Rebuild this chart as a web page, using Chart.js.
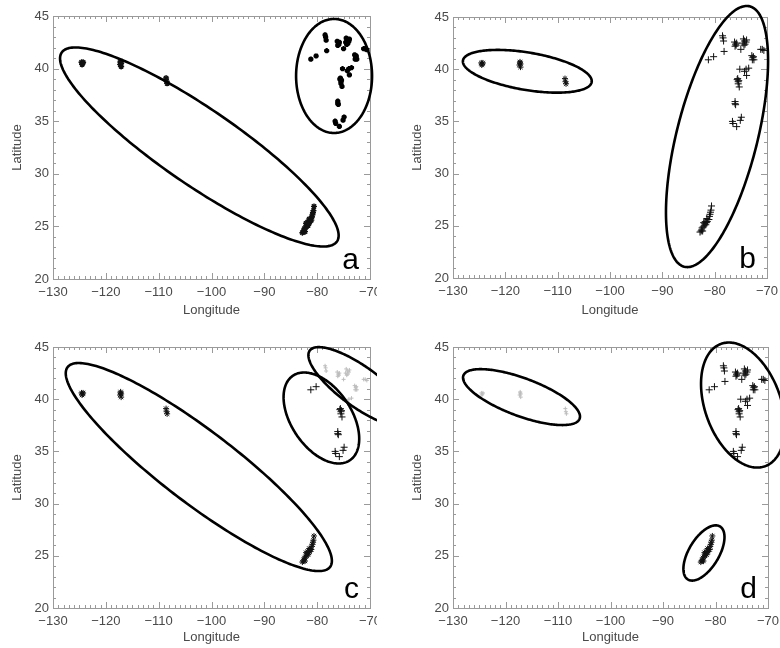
<!DOCTYPE html>
<html><head><meta charset="utf-8">
<script src="https://cdn.jsdelivr.net/npm/chart.js@4/dist/chart.umd.min.js"></script>
<style>
html,body{margin:0;padding:0;background:#fff;}
#wrap{position:relative;width:780px;height:648px;overflow:hidden;background:#fff;}
.panel{position:absolute;overflow:hidden;}
.panel canvas{position:absolute;left:0;top:0;}
</style></head><body>
<div id="wrap">
 <div class="panel" style="left:0;top:0;width:377px;height:324px"><canvas id="ca" width="390" height="324"></canvas></div>
 <div class="panel" style="left:390px;top:0;width:390px;height:324px"><canvas id="cb" width="390" height="324"></canvas></div>
 <div class="panel" style="left:0;top:324px;width:377px;height:324px"><canvas id="cc" width="390" height="324"></canvas></div>
 <div class="panel" style="left:390px;top:324px;width:390px;height:324px"><canvas id="cd" width="390" height="324"></canvas></div>
</div>
<script>
// ---- data ----
const siteNames = ['W1','W2','W3','FL','OH','ROC','SYR','ALB','CT','BOS','NJ','DE','VA','NC'];
const stationSite = [
 'W1','W1','W1','W1',
 'W2','W2','W2','W2','W2',
 'W3','W3','W3',
 'FL','FL','FL','FL','FL','FL','FL','FL','FL','FL','FL','FL','FL','FL','FL','FL','FL','FL','FL','FL','FL',
 'OH','OH',
 'ROC','ROC','ROC','ROC',
 'SYR','SYR','SYR','SYR','SYR',
 'ALB','ALB','ALB','ALB','ALB','ALB','ALB','ALB',
 'CT','CT','CT','CT','CT',
 'BOS','BOS','BOS',
 'NJ','NJ','NJ','NJ','NJ',
 'DE','DE','DE','DE','DE','DE',
 'VA','VA','VA',
 'NC','NC','NC','NC','NC'];
const stationLon = [
 -124.6,-124.4,-124.5,-124.3,
 -117.2,-117.1,-117.3,-117.1,-117.2,
 -108.6,-108.5,-108.4,
 -82.8,-82.6,-82.5,-82.3,-82.4,-82.2,-82.0,-81.9,-82.1,-81.7,-81.6,-81.8,-81.4,-81.3,-81.5,-81.1,-81.0,-80.9,-80.8,-80.7,-80.6,
 -81.2,-80.2,
 -78.5,-78.4,-78.3,-78.2,
 -76.2,-76.0,-76.1,-75.8,-75.9,
 -74.5,-74.3,-74.0,-74.2,-74.4,-73.9,-74.6,-75.0,
 -72.9,-72.7,-72.5,-72.8,-72.6,
 -71.2,-70.6,-70.9,
 -75.2,-74.0,-73.5,-73.9,-74.3,
 -75.7,-75.5,-75.6,-75.4,-75.5,-75.3,
 -76.1,-76.0,-76.1,
 -76.6,-76.5,-75.8,-75.1,-74.9];
const stationLat = [
 40.6,40.5,40.4,40.6,
 40.7,40.5,40.4,40.2,40.6,
 39.1,38.8,38.6,
 24.4,24.5,24.6,24.5,24.8,24.9,25.0,25.2,25.3,25.1,25.3,25.4,25.4,25.6,25.7,25.6,25.9,26.1,26.3,26.5,26.9,
 40.9,41.2,
 43.2,43.0,42.7,41.7,
 42.6,42.4,42.2,42.5,42.3,
 42.9,42.7,42.6,42.4,42.3,42.8,42.5,41.9,
 41.3,41.1,40.9,40.9,41.2,
 41.9,41.8,41.9,
 40.0,40.0,40.1,39.4,39.8,
 39.0,38.8,39.1,38.9,38.6,38.3,
 36.9,36.6,36.7,
 35.0,34.8,34.5,35.1,35.4];
// cluster of each site, per panel
const clusterA = [1,1,1,1,2,2,2,2,2,2,2,2,2,2];
const clusterB = [1,1,1,2,2,2,2,2,2,2,2,2,2,2];
const clusterC = [1,1,1,1,2,3,3,3,3,3,3,2,2,2];
const clusterD = [3,3,3,1,2,2,2,2,2,2,2,2,2,2];
// cluster ellipses: centre lon, centre lat, axis vector u (lon,lat), axis vector v (lon,lat)
const ellipsesA = [[-102.3,32.55,26.05,-8.98,-4.07,-2.98],[-76.8,39.3,7.19,0,0,-5.42]];
const ellipsesB = [[-115.8,39.8,12.3,-1.03,-0.59,-1.77],[-79.55,33.55,6.25,12.47,7.49,-0.94]];
const ellipsesC = [[-102.4,33.5,24.84,-9.57,-4.16,-2.77],[-79.2,38.2,5.39,-4.05,-4.71,-1.61],[-71.9,41.17,9.50,-3.49,-2.23,-1.55]];
const ellipsesD = [[-116.95,40.2,11.07,-2.07,-1.26,-1.70],[-82.2,25.27,3.05,2.54,2.45,-0.74],[-74.76,39.44,4.19,-5.86,-6.81,-1.23]];
const xRange = [-130,-70];
const yRange = [20,45];
const xTickValues = [-130,-120,-110,-100,-90,-80,-70];
const yTickValues = [20,25,30,35,40,45];
const panelLetters = ['a','b','c','d'];

// ---- styles ----
const AXIS = '#9a9a9a';
const TXT = '#4a4a4a';
const FONT = 'Liberation Sans, Arial, sans-serif';
const markerStyles = {
  a:{1:{pointStyle:'star',r:3,bw:1.4,c:'#111'},2:{pointStyle:'star',r:2.6,bw:2.2,c:'#000'}},
  b:{1:{pointStyle:'star',r:3,bw:1,c:'#111'},2:{pointStyle:'cross',r:3.5,bw:1,c:'#111'}},
  c:{1:{pointStyle:'star',r:3,bw:1,c:'#111'},2:{pointStyle:'cross',r:3.5,bw:1,c:'#111'},3:{pointStyle:'cross',r:2,bw:1,c:'#bdbdbd'}},
  d:{1:{pointStyle:'star',r:3,bw:1,c:'#111'},2:{pointStyle:'cross',r:3.5,bw:1,c:'#111'},3:{pointStyle:'cross',r:2,bw:1,c:'#bdbdbd'}}
};
const layouts = {
  a:{padR:20,padT:16,yw:53,xh:45,ytp:10,xtp:6},
  b:{padR:13,padT:17,yw:63,xh:46,ytp:20,xtp:6},
  c:{padR:20,padT:23,yw:53,xh:40,ytp:10,xtp:3},
  d:{padR:12,padT:23,yw:63,xh:40,ytp:20,xtp:3}
};

function minus(v){ return v<0 ? '\u2212'+Math.abs(v) : String(v); }

const framePlugin = {
  id:'frame',
  beforeDatasetsDraw(chart){
    const {ctx, chartArea:a, scales:{x,y}} = chart;
    ctx.save();
    ctx.strokeStyle = AXIS; ctx.lineWidth = 1;
    ctx.strokeRect(Math.round(a.left)+0.5, Math.round(a.top)+0.5, Math.round(a.right-a.left), Math.round(a.bottom-a.top));
    ctx.beginPath();
    for(let v=xRange[0]; v<=xRange[1]; v++){
      const px = Math.round(x.getPixelForValue(v))+0.5;
      const L = (v%10===0)?6:3;
      ctx.moveTo(px,a.bottom); ctx.lineTo(px,a.bottom-L);
      ctx.moveTo(px,a.top); ctx.lineTo(px,a.top+L);
    }
    for(let v=yRange[0]; v<=yRange[1]; v++){
      const py = Math.round(y.getPixelForValue(v))+0.5;
      const L = (v%5===0)?6:3;
      ctx.moveTo(a.left,py); ctx.lineTo(a.left+L,py);
      ctx.moveTo(a.right,py); ctx.lineTo(a.right-L,py);
    }
    ctx.stroke();
    ctx.restore();
  },
  afterDraw(chart){
    const {ctx, chartArea:a, scales:{x,y}} = chart;
    const o = chart.options.plugins.frame;
    ctx.save();
    ctx.strokeStyle = '#000'; ctx.lineWidth = 2.6; ctx.lineJoin='round';
    for(const e of o.ellipses){
      ctx.beginPath();
      for(let i=0;i<=240;i++){
        const t = i/240*2*Math.PI;
        const lo = e[0] + e[2]*Math.cos(t) + e[4]*Math.sin(t);
        const la = e[1] + e[3]*Math.cos(t) + e[5]*Math.sin(t);
        const px = x.getPixelForValue(lo), py = y.getPixelForValue(la);
        if(i===0) ctx.moveTo(px,py); else ctx.lineTo(px,py);
      }
      ctx.closePath(); ctx.stroke();
    }
    ctx.fillStyle = '#000';
    ctx.font = '30px ' + FONT;
    ctx.textAlign = 'right'; ctx.textBaseline = 'alphabetic';
    ctx.fillText(o.letter, a.right-11, a.bottom-10);
    ctx.restore();
  }
};

function makePanel(id, key, cluster, ellipses, letter){
  const L = layouts[key];
  const st = markerStyles[key];
  const groups = Object.keys(st);
  const datasets = groups.map(g => {
    const s = st[g];
    const pts = [];
    for(let i=0;i<stationLon.length;i++){
      if(String(cluster[siteNames.indexOf(stationSite[i])])===g) pts.push({x:stationLon[i], y:stationLat[i]});
    }
    return {data:pts, pointStyle:s.pointStyle, pointRadius:s.r, pointBorderWidth:s.bw,
            borderColor:s.c, backgroundColor:s.c, pointBorderColor:s.c, showLine:false};
  });
  new Chart(document.getElementById(id), {
    type:'scatter',
    data:{datasets},
    options:{
      responsive:false, animation:false, events:[],
      layout:{padding:{left:0,right:L.padR,top:L.padT,bottom:0}},
      plugins:{legend:{display:false}, tooltip:{enabled:false}, frame:{ellipses, letter}},
      scales:{
        x:{type:'linear', min:xRange[0], max:xRange[1],
           afterBuildTicks(s){ s.ticks = xTickValues.map(v=>({value:v})); },
           afterFit(s){ s.height = L.xh; s.paddingLeft = 0; s.paddingRight = 0; },
           ticks:{autoSkip:false, maxRotation:0, minRotation:0, padding:6, color:TXT, font:{family:FONT,size:13}, callback:v=>minus(v)},
           grid:{display:false, drawTicks:false}, border:{display:false},
           title:{display:true, text:'Longitude', color:TXT, font:{family:FONT,size:13}, padding:{top:0,bottom:L.xtp}}},
        y:{type:'linear', min:yRange[0], max:yRange[1],
           afterBuildTicks(s){ s.ticks = yTickValues.map(v=>({value:v})); },
           afterFit(s){ s.width = L.yw; },
           ticks:{padding:4, color:TXT, font:{family:FONT,size:13}, callback:v=>String(v)},
           grid:{display:false, drawTicks:false}, border:{display:false},
           title:{display:true, text:'Latitude', color:TXT, font:{family:FONT,size:13}, padding:{top:L.ytp,bottom:0}}}
      }
    },
    plugins:[framePlugin]
  });
}
makePanel('ca','a',clusterA,ellipsesA,panelLetters[0]);
makePanel('cb','b',clusterB,ellipsesB,panelLetters[1]);
makePanel('cc','c',clusterC,ellipsesC,panelLetters[2]);
makePanel('cd','d',clusterD,ellipsesD,panelLetters[3]);
</script>
</body></html>
